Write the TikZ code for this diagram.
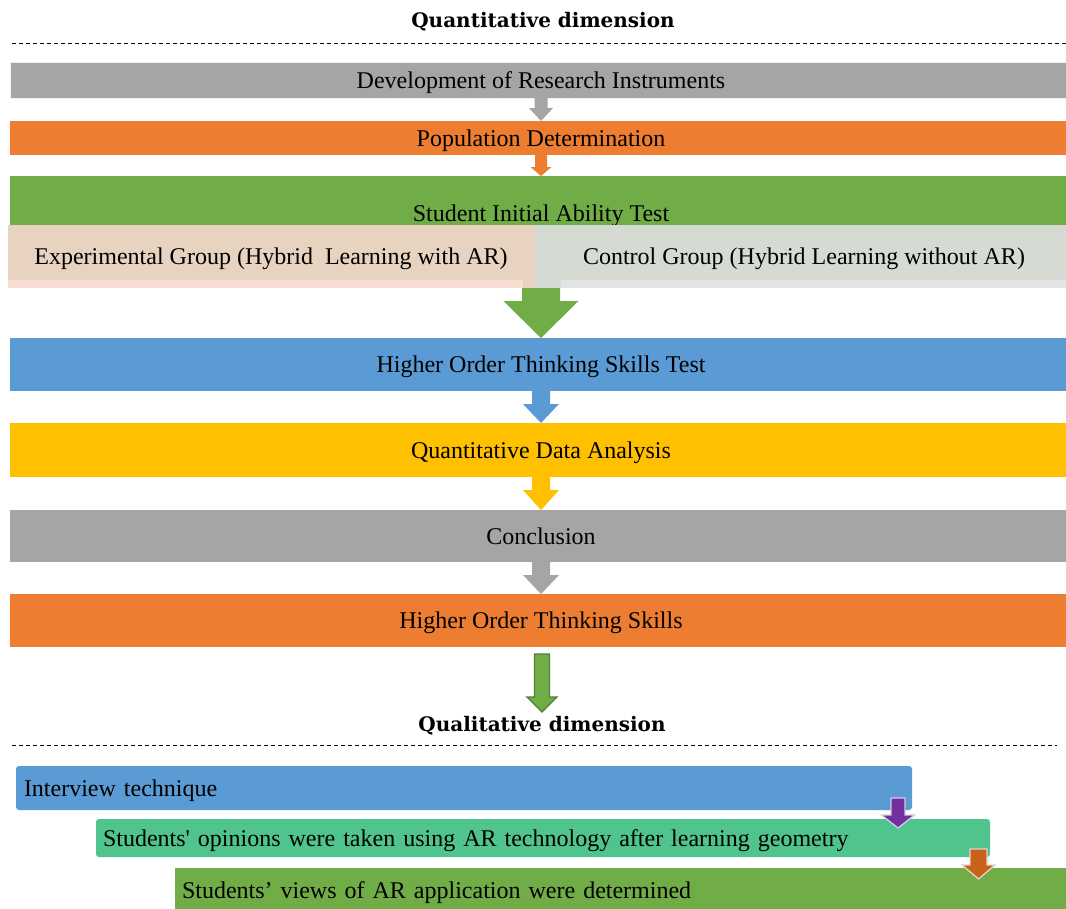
\documentclass[tikz,border=0pt]{standalone}
\usepackage{fontspec}
\setmainfont{Liberation Serif}
\newfontfamily\titlefont{DejaVu Serif}
\usetikzlibrary{calc}
\definecolor{cgray}{HTML}{A5A5A5}
\definecolor{corange}{HTML}{ED7D31}
\definecolor{cgreen}{HTML}{70AD47}
\definecolor{cgreendark}{HTML}{507E32}
\definecolor{cblue}{HTML}{5B9BD5}
\definecolor{cyellow}{HTML}{FFC000}
\definecolor{cexp}{HTML}{E8D2C0}
\definecolor{cexpband}{HTML}{F8DBD1}
\definecolor{cctl}{HTML}{D5DBD2}
\definecolor{cctlband}{HTML}{E3E3E3}
\definecolor{cteal}{HTML}{4FC48D}
\definecolor{cpurple}{HTML}{7030A0}
\definecolor{cpurpleedge}{HTML}{D2CBE6}
\definecolor{cbrown}{HTML}{C8621A}
\definecolor{cbrownedge}{HTML}{E3D3C8}
\newcommand{\blockarrow}[6]{%
  \path[#1] let \p1=(#2), \p2=(#3) in
  (\x1-#4pt,\y1) -- (\x1+#4pt,\y1) -- (\x1+#4pt,\y2+#6pt) -- (\x1+#5pt,\y2+#6pt)
  -- (\x1,\y2) -- (\x1-#5pt,\y2+#6pt) -- (\x1-#4pt,\y2+#6pt) -- cycle;}
\begin{document}
\begin{tikzpicture}[x=1pt,y=-1pt,
  box/.style={rectangle, inner sep=0pt, outer sep=0pt, font=\fontsize{24}{28}\selectfont, text=black, text height=16pt, text depth=0pt},
  lbox/.style={box, rounded corners=3pt, align=left, inner ysep=0pt},
  ttl/.style={font=\titlefont\bfseries\fontsize{20}{24}\selectfont, inner sep=0pt, text height=15pt, text depth=0pt},
  dline/.style={dash pattern=on 4pt off 3pt, line width=0.8pt}]
\useasboundingbox (0,0) rectangle (1066,908);
% titles and dashed lines
\node[ttl] (quant) at (543,20) {Quantitative dimension};
\coordinate (d1a) at (12,43); \coordinate (d1b) at (1066,43);
\draw[dline] (d1a) -- (d1b);
% quantitative boxes
\node[box, fill=cgray, draw=white!85!cgray, line width=0.8pt, minimum width=1062, minimum height=36] (b1) at (541,80) {Development of Research Instruments};
\node[box, fill=corange, minimum width=1062, minimum height=34] (b2) at (541,138) {Population Determination};
\node[box, fill=cgreen, minimum width=1062, minimum height=49] (b3) at (541,200.5) {};
\node[box] (b3t) at (541,213) {Student Initial Ability Test};
\node[box, fill=cexp, minimum width=527, minimum height=63] (exp) at (271.5,256.5) {};
\node[box, fill=cctl, minimum width=537, minimum height=63] (ctl) at (803.5,256.5) {};
\fill[cexpband] (8,280) rectangle (523,288);
\fill[cctlband] (561,280) rectangle (1072,288);
\node[box] (expt) at (271,256) {Experimental Group (Hybrid\ \ Learning with AR)};
\node[box] (ctlt) at (804,256) {Control Group (Hybrid Learning without AR)};
\coordinate (gbot) at (541,288);
\node[box, fill=cblue, minimum width=1062, minimum height=53] (b4) at (541,364.5) {Higher Order Thinking Skills Test};
\node[box, fill=cyellow, minimum width=1062, minimum height=54] (b5) at (541,450) {Quantitative Data Analysis};
\node[box, fill=cgray, minimum width=1062, minimum height=52] (b6) at (541,536) {Conclusion};
\node[box, fill=corange, minimum width=1062, minimum height=53] (b7) at (541,620.5) {Higher Order Thinking Skills};
% arrows
\blockarrow{fill=cgray}{b1.south}{b2.north}{6.5}{12}{13}
\blockarrow{fill=corange}{b2.south}{b3.north}{6}{10.5}{9}
\blockarrow{fill=cgreen}{gbot}{b4.north}{19}{37.5}{37}
\blockarrow{fill=cblue}{b4.south}{b5.north}{9}{18}{19}
\blockarrow{fill=cyellow}{b5.south}{b6.north}{9}{18}{20}
\blockarrow{fill=cgray}{b6.south}{b7.north}{9}{18}{19}
% qualitative part
\node[ttl] (qual) at (542,724) {Qualitative dimension};
\coordinate (a7s) at (542,654);
\coordinate (a7t) at (542,712);
\blockarrow{fill=cgreen, draw=cgreendark, line width=1.3pt, line join=miter}{a7s}{a7t}{7.5}{15}{15}
\coordinate (d2a) at (12,745); \coordinate (d2b) at (1057,745);
\draw[dline] (d2a) -- (d2b);
\node[lbox, fill=cblue, text width=880, inner xsep=8pt, minimum height=44] (q1) at (464,788) {Interview technique};
\node[lbox, fill=cteal, text width=880, inner xsep=7pt, minimum height=38] (q2) at (543,838) {Students\textquotesingle\ opinions were taken using AR technology after learning geometry};
\node[lbox, fill=cgreen, text width=883, inner xsep=7pt, minimum height=44, rounded corners=0pt] (q3) at (623.5,890) {Students’ views of AR application were determined};
\coordinate (p1s) at (898,798); \coordinate (p1t) at (898,828);
\blockarrow{fill=cpurple, draw=cpurpleedge, line width=1.3pt}{p1s}{p1t}{7}{16.5}{13}
\coordinate (p2s) at (978.5,849); \coordinate (p2t) at (978.5,879);
\blockarrow{fill=cbrown, draw=cbrownedge, line width=1.3pt}{p2s}{p2t}{8.5}{16.5}{14}
\end{tikzpicture}
\end{document}
